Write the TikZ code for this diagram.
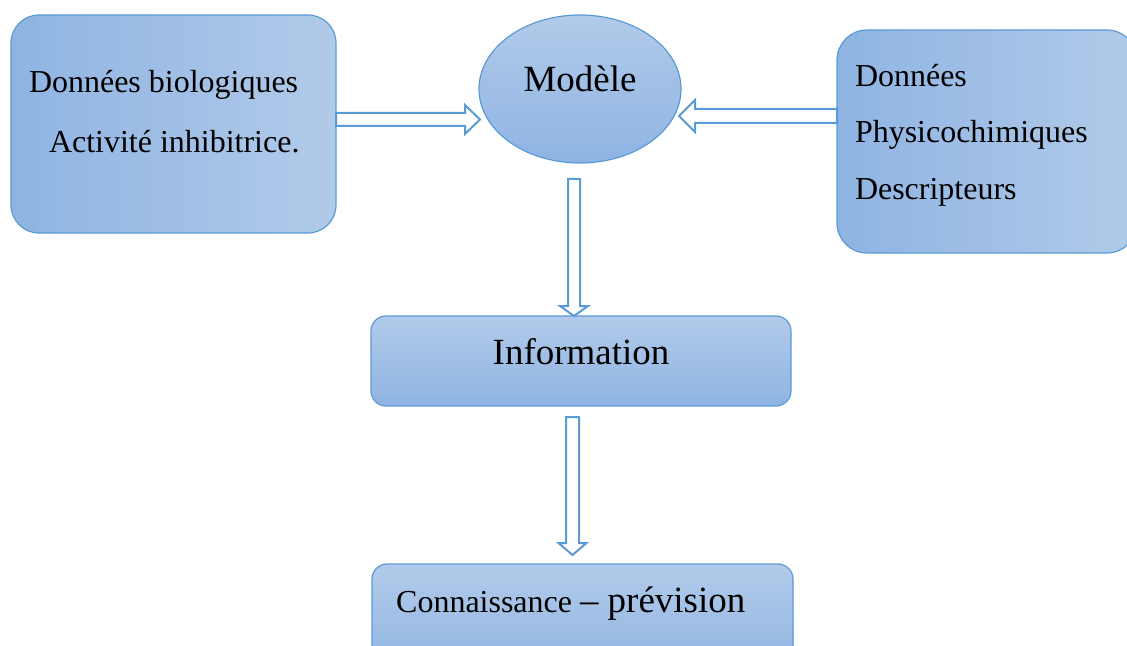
\documentclass[tikz,border=0pt]{standalone}
\usepackage{fontspec}
\setmainfont{Liberation Serif}
\usetikzlibrary{shapes.geometric,calc}
\definecolor{edgeblue}{HTML}{5B9BD5}
\definecolor{darkfill}{HTML}{8FB4E3}
\definecolor{lightfill}{HTML}{B1CAE9}
\tikzset{
  boxbase/.style={draw=edgeblue, line width=1.2bp, inner sep=0pt, outer sep=0pt},
  hbox/.style={boxbase, rectangle, left color=darkfill, right color=lightfill},
  vbox/.style={boxbase, rectangle, top color=lightfill, bottom color=darkfill},
  ellbox/.style={boxbase, ellipse, top color=lightfill, bottom color=darkfill},
  arrowline/.style={draw=edgeblue, fill=white, line width=2bp, line join=miter},
  txt/.style={inner sep=0pt, outer sep=0pt, font=\fontsize{32.1}{38}\selectfont},
  bigtxt/.style={inner sep=0pt, outer sep=0pt, font=\fontsize{37.1}{44}\selectfont}
}
\begin{document}
\begin{tikzpicture}[x=1bp,y=-1bp]
\useasboundingbox (0,0) rectangle (1127,646);
\clip (0,0) rectangle (1127,646);
% boxes
\node[hbox, rounded corners=28bp, minimum width=325bp, minimum height=218bp] (bio) at (173.5,124) {};
\node[hbox, rounded corners=30bp, minimum width=300bp, minimum height=223bp] (phys) at (987,141.5) {};
\node[ellbox, minimum width=202bp, minimum height=148bp] (mod) at (580,89) {};
\node[vbox, rounded corners=15bp, minimum width=420bp, minimum height=90bp] (info) at (581,361) {};
\node[vbox, rounded corners=15bp, minimum width=421bp, minimum height=116bp] (conn) at (582.5,622) {};
% texts
\node[txt, anchor=base west] (t1) at (29,93) {Données biologiques};
\node[txt, anchor=base west] (t2) at (49,153) {Activité inhibitrice.};
\node[txt, anchor=base west] (t3) at (855,87) {Données};
\node[txt, anchor=base west] (t4) at (855,143) {Physicochimiques};
\node[txt, anchor=base west] (t5) at (855,200) {Descripteurs};
\node[bigtxt, anchor=base] (t6) at (580,92) {Modèle};
\node[bigtxt, anchor=base] (t7) at (581,364) {Information};
\node[anchor=base west, inner sep=0pt] (t8) at (396,612) {\fontsize{32.1}{38}\selectfont Connaissance \fontsize{37.1}{44}\selectfont -- prévision};
% arrow anchor points
\coordinate (a1s) at (bio.east |- 0,119.5);
\coordinate (a1e) at (480,119.5);
\coordinate (a2s) at (phys.west |- 0,116);
\coordinate (a2e) at (679,116);
\coordinate (a3s) at (574,179);
\coordinate (a3e) at (574,316);
\coordinate (a4s) at (572.5,417);
\coordinate (a4e) at (572.5,555);
% block arrows
\draw[arrowline] ($(a1s)+(0,-6.5)$) -- ($(a1e)+(-15,-6.5)$) -- ($(a1e)+(-15,-14.5)$) -- (a1e)
  -- ($(a1e)+(-15,14.5)$) -- ($(a1e)+(-15,6.5)$) -- ($(a1s)+(0,6.5)$) -- cycle;
\draw[arrowline] ($(a2s)+(0,-7)$) -- ($(a2e)+(16,-7)$) -- ($(a2e)+(16,-16)$) -- (a2e)
  -- ($(a2e)+(16,16)$) -- ($(a2e)+(16,7)$) -- ($(a2s)+(0,7)$) -- cycle;
\draw[arrowline] ($(a3s)+(-6,0)$) -- ($(a3e)+(-6,-10)$) -- ($(a3e)+(-14,-10)$) -- (a3e)
  -- ($(a3e)+(14,-10)$) -- ($(a3e)+(6,-10)$) -- ($(a3s)+(6,0)$) -- cycle;
\draw[arrowline] ($(a4s)+(-6.5,0)$) -- ($(a4e)+(-6.5,-12)$) -- ($(a4e)+(-14,-12)$) -- (a4e)
  -- ($(a4e)+(14,-12)$) -- ($(a4e)+(6.5,-12)$) -- ($(a4s)+(6.5,0)$) -- cycle;
\end{tikzpicture}
\end{document}
